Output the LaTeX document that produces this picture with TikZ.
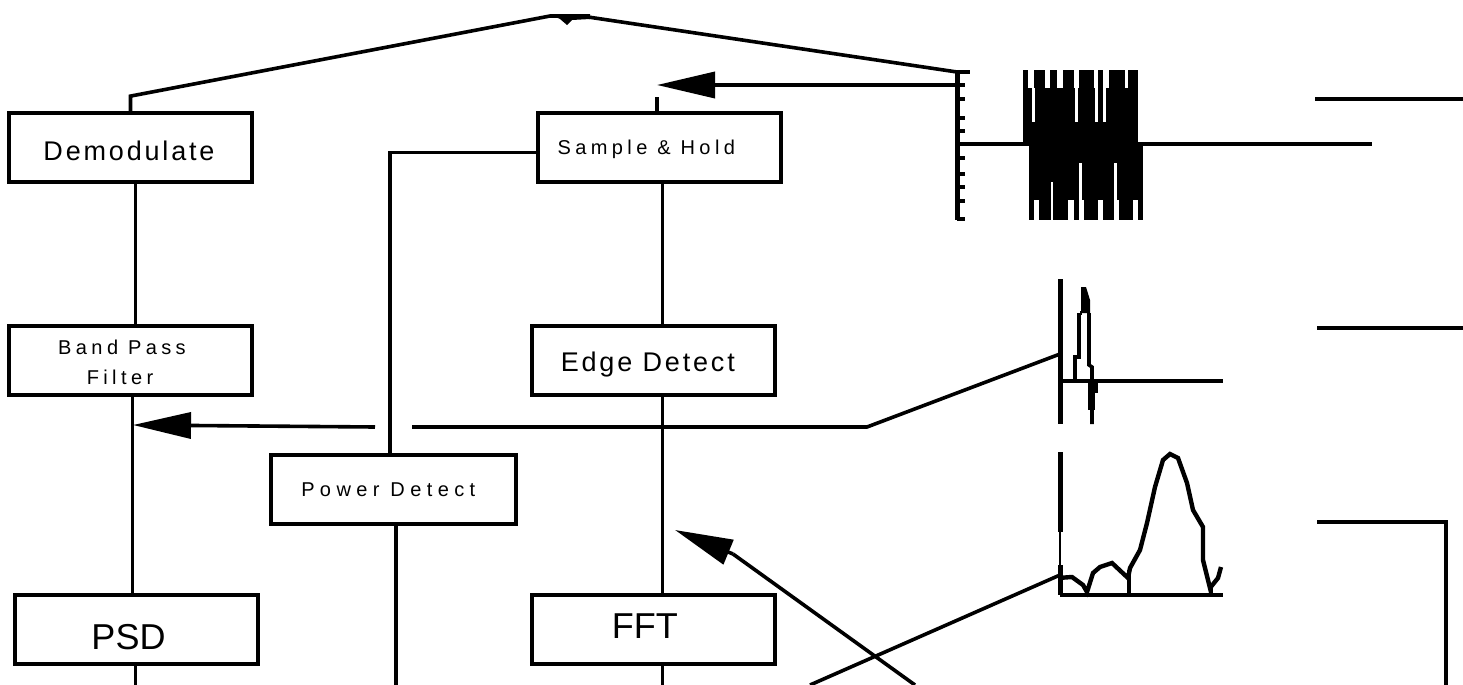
\documentclass[tikz,border=0pt]{standalone}
\usepackage{fontspec}
\setmainfont{Liberation Sans}
\newfontfamily\wideface[LetterSpace=10.5]{Liberation Sans}
\newfontfamily\smallface[LetterSpace=22]{Liberation Sans}
\newfontfamily\powerface[LetterSpace=27]{Liberation Sans}
\newfontfamily\plainface{Liberation Sans}
\usetikzlibrary{arrows.meta, positioning}
\tikzset{
    baseblock/.style={rectangle, draw=black, line width=1.9pt, text centered, minimum width=121.5pt, minimum height=34.5pt, inner sep=2pt, text depth=0pt},
    labelblock/.style={baseblock, font=\wideface\fontsize{13.5}{15}\selectfont},
    smallblock/.style={baseblock, font=\smallface\fontsize{10}{15}\selectfont},
    twolineblock/.style={baseblock, font=\smallface\fontsize{10}{15}\selectfont, align=center, text depth={}},
    bigblock/.style={baseblock, font=\plainface\fontsize{18}{20}\selectfont},
    arrow/.style={line width=1.8pt, -{Triangle[length=29pt, width=13pt]}},
    line/.style={line width=1.8pt},
    axisline/.style={line width=2.5pt},
    thinline/.style={line width=1.1pt},
    curveline/.style={line width=2.2pt}
}

\begin{document}
\begin{tikzpicture}[x=0.5pt, y=-0.5pt, node distance=70pt]
    \useasboundingbox (0,0) rectangle (1463,685);

    \node (demod) [labelblock, text height=13.2pt] at (130.5,147.5) {Demodulate\kern1.5pt};
    \node (bandpass) [twolineblock, below=of demod] {\rule{0pt}{9.5pt}Band Pass\kern8.5pt\\Filter\kern10.5pt};
    \node (psd) [bigblock, below=98pt of bandpass, xshift=3pt, text height=20.5pt] {PSD\kern8pt};
    \node (sample) [smallblock, right=141pt of demod, text height=6.7pt] {Sample \& Hold\kern13pt};
    \node (edge) [labelblock, below=of sample, xshift=-3pt, text height=11.2pt] {Edge Detect\kern5.5pt};
    \node (fft) [bigblock, below=98pt of edge, text height=9.5pt] {FFT\kern8.5pt};
    \node (power) [smallblock, below right=28pt and 7.5pt of bandpass, minimum width=122.5pt, text height=7.2pt] {\powerface Power Detect\kern5pt};

    % free ends of the connectors
    \coordinate (peakleft) at (550,16);
    \coordinate (peakright) at (588,17);
    \coordinate (axisone) at (957,72);
    \coordinate (axisonend) at (957,220);
    \coordinate (tapone) at (957,85);
    \coordinate (holdin) at (657,85);
    \coordinate (holdstub) at (657,97);
    \coordinate (tracein) at (957,144);
    \coordinate (traceout) at (1372,144);
    \coordinate (axistwo) at (1060,354);
    \coordinate (bend) at (867,427);
    \coordinate (gapright) at (412,427);
    \coordinate (gapleft) at (375,427);
    \coordinate (bandin) at (133,425);
    \coordinate (diagin) at (675,530);
    \coordinate (diagbase) at (733,554);
    \coordinate (diagout) at (915,685);
    \coordinate (riseout) at (810,685);
    \coordinate (axisthree) at (1060,575);

    % block chain
    \draw [line] (demod.north) -- ++(0,-15) -- (peakleft) -- (peakright) -- (axisone);
    \fill (550,14) -- (590,14) -- (590,19) -- (572,20) -- (567,25) -- (560,19) -- cycle;
    \draw [arrow] (tapone) -- (holdin);
    \draw [line] (sample.north -| holdstub) -- (holdstub);
    \draw [line] ([yshift=-2.5pt]sample.west) -| ([xshift=-1.75pt]power.north);
    \draw [line] ([xshift=2.5pt]demod.south) -- ([xshift=2.5pt]bandpass.north);
    \draw [line] ([xshift=1.5pt]sample.south) -- ([xshift=4.5pt]edge.north);
    \draw [line] ([xshift=1pt]bandpass.south) -- ([xshift=-2pt]psd.north);
    \draw [line] ([xshift=4.5pt]edge.south) -- ([xshift=4.5pt]fft.north);
    \draw [line] ([xshift=-0.5pt]psd.south) -- ++(0,20);
    \draw [line] ([xshift=1.25pt]power.south) -- ++(0,162);
    \draw [line] ([xshift=4.5pt]fft.south) -- ++(0,20);

    % return paths
    \draw [line] (axistwo) -- (bend) -- (gapright);
    \draw [arrow] (gapleft) -- (bandin);
    \draw [line] (diagout) -- (diagbase);
    \draw [arrow] (diagbase) -- (diagin);
    \draw [line] (riseout) -- (axisthree);

    % first trace
    \draw [axisline] (axisone) -- (axisonend);
    \foreach \y in {85,99,118,131,158,174,187,201,219} {
        \draw [line] (957,\y) -- (965,\y);
    }
    \draw [line] (axisone) -- (970,72);
    \draw [line] (tracein) -- (traceout);
    \fill (1023,88) rectangle (1138,143);
    \fill (1029,143) rectangle (1143,200);
    \foreach \a/\b in {1023/1028,1034/1045,1050/1057,1063/1074,1079/1094,1098/1103,1109/1125,1128/1138} {
        \fill (\a,70) rectangle (\b,89);
    }
    \foreach \a/\b in {1029/1034,1039/1051,1053/1068,1074/1079,1084/1098,1103/1114,1119/1133,1138/1143} {
        \fill (\a,199) rectangle (\b,220);
    }
    \foreach \x/\y in {1032/122,1075/122,1095/122,1103/122} {
        \fill [white] (\x,88) rectangle ++(2.5,\y-88);
    }
    \foreach \x/\y/\w in {1051/182/2,1079/163/3,1114/163/3} {
        \fill [white] (\x,\y) rectangle ++(\w,200-\y);
    }

    % second trace
    \draw [axisline] (1060,279) -- (1060,424);
    \draw [line] (1060,381) -- (1223,381);
    \draw [line] (1075,381) -- (1075,357) -- (1079,357) -- (1079,313);
    \fill (1081,287) -- (1086,287) -- (1090,300) -- (1090,313) -- (1081,313) -- cycle;
    \draw [line] (1080,313) -- (1082,313);
    \draw [line] (1089,313) -- (1089,365) -- (1092,367) -- (1092,424);
    \fill (1088,383) rectangle (1098,393);
    \fill (1088,393) rectangle (1095,410);

    % third trace
    \draw [axisline] (1060,452) -- (1060,532);
    \draw [thinline] (1060,532) -- (1060,565);
    \draw [axisline] (1060,565) -- (1060,595);
    \draw [line] (1060,595) -- (1223,595);
    \draw [curveline] (1058,578) -- (1072,577) -- (1083,585) -- (1087,592) -- (1093,573) -- (1100,567) -- (1112,563) -- (1128,578) -- (1130,568) -- (1140,550) -- (1147,523) -- (1155,487) -- (1163,460) -- (1170,454) -- (1178,458) -- (1187,483) -- (1193,510) -- (1203,527) -- (1203,560) -- (1210,588) -- (1218,578) -- (1221,567);
    \draw [line] (1129,570) -- (1129,595);
    \draw [line] (1087,590) -- (1087,595);
    \draw [line] (1211,588) -- (1211,595);

    % stubs on the right
    \coordinate (stubone) at (1315,99);
    \coordinate (stubtwo) at (1317,328);
    \coordinate (stubthree) at (1317,522);
    \draw [line] (stubone) -- (1463,99);
    \draw [line] (stubtwo) -- (1463,328);
    \draw [line] (stubthree) -| (1446,685);
\end{tikzpicture}
\end{document}
